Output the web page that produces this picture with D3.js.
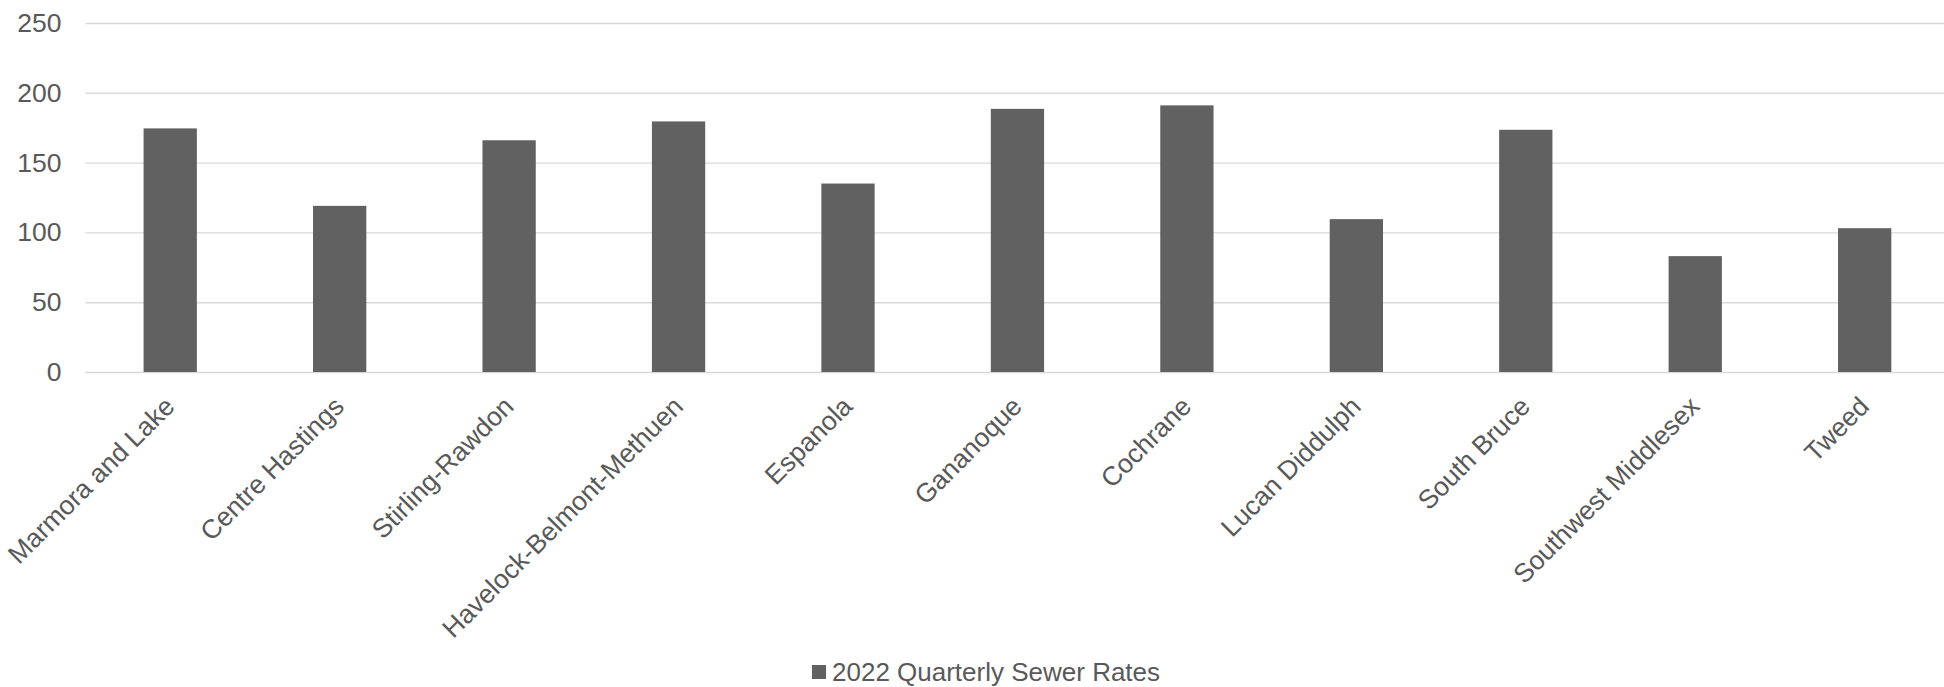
<!DOCTYPE html>
<html>
<head>
<meta charset="utf-8">
<script src="https://cdn.jsdelivr.net/npm/d3@7"></script>
<style>
  html, body { margin: 0; padding: 0; background: #ffffff; }
  svg { display: block; }
  text { font-family: "Liberation Sans", Arial, sans-serif; fill: #595959; }
</style>
</head>
<body>
<svg id="chart" width="1944" height="687"></svg>
<script>
// Municipalities and their 2022 quarterly sewer rates
const categories = [
  "Marmora and Lake", "Centre Hastings", "Stirling-Rawdon", "Havelock-Belmont-Methuen",
  "Espanola", "Gananoque", "Cochrane", "Lucan Diddulph", "South Bruce",
  "Southwest Middlesex", "Tweed"
];
const sewerRates = [174.5, 119, 166, 179.5, 135, 188.5, 191, 109.5, 173.5, 83, 103];
const yTicks = [0, 50, 100, 150, 200, 250];
const seriesName = "2022 Quarterly Sewer Rates";

const W = 1944, H = 687;
const margin = { left: 85.5, right: -5.4, top: 23, bottom: 315 };
const fontSize = 26.5;
const barColor = "#616161";

const svg = d3.select("#chart");

const x = d3.scaleBand()
  .domain(categories)
  .range([margin.left, W - margin.right])
  .padding(0);

const y = d3.scaleLinear()
  .domain([0, 250])
  .range([H - margin.bottom, margin.top]);

// Horizontal gridlines with value labels
const yAxis = d3.axisLeft(y).tickValues(yTicks).tickSize(-(W - margin.right - margin.left)).tickPadding(24);
const gy = svg.append("g")
  .attr("transform", `translate(${margin.left},0)`)
  .call(yAxis);
gy.select(".domain").remove();
gy.selectAll(".tick line").attr("stroke", "#d9d9d9").attr("stroke-width", 1.4);
gy.selectAll(".tick text")
  .attr("font-size", fontSize)
  .attr("font-family", "Liberation Sans, Arial, sans-serif")
  .attr("fill", "#595959");

// Bars: Excel-style gap width, bar occupies ~31% of the category slot
const barW = x.bandwidth() / 3.18;
svg.append("g")
  .selectAll("rect")
  .data(categories)
  .join("rect")
  .attr("x", (d) => x(d) + x.bandwidth() / 2 - barW / 2)
  .attr("y", (d, i) => y(sewerRates[i]))
  .attr("width", barW)
  .attr("height", (d, i) => y(0) - y(sewerRates[i]))
  .attr("fill", barColor);

// Category labels rotated -45 degrees
const xAxis = d3.axisBottom(x).tickSize(0).tickPadding(0);
const gx = svg.append("g")
  .attr("transform", `translate(0,${y(0)})`)
  .call(xAxis);
gx.select(".domain").remove();
gx.selectAll(".tick text")
  .attr("font-size", fontSize)
  .attr("font-family", "Liberation Sans, Arial, sans-serif")
  .attr("fill", "#595959")
  .attr("text-anchor", "end")
  .attr("dy", null)
  .attr("y", null)
  .attr("transform", "translate(6,36) rotate(-45)");

// Legend
const legend = svg.append("g").attr("transform", "translate(812,0)");
legend.append("rect")
  .attr("x", 0).attr("y", 665)
  .attr("width", 14).attr("height", 14)
  .attr("fill", barColor);
legend.append("text")
  .attr("x", 20).attr("y", 681)
  .attr("font-size", 26)
  .text(seriesName);
</script>
</body>
</html>
